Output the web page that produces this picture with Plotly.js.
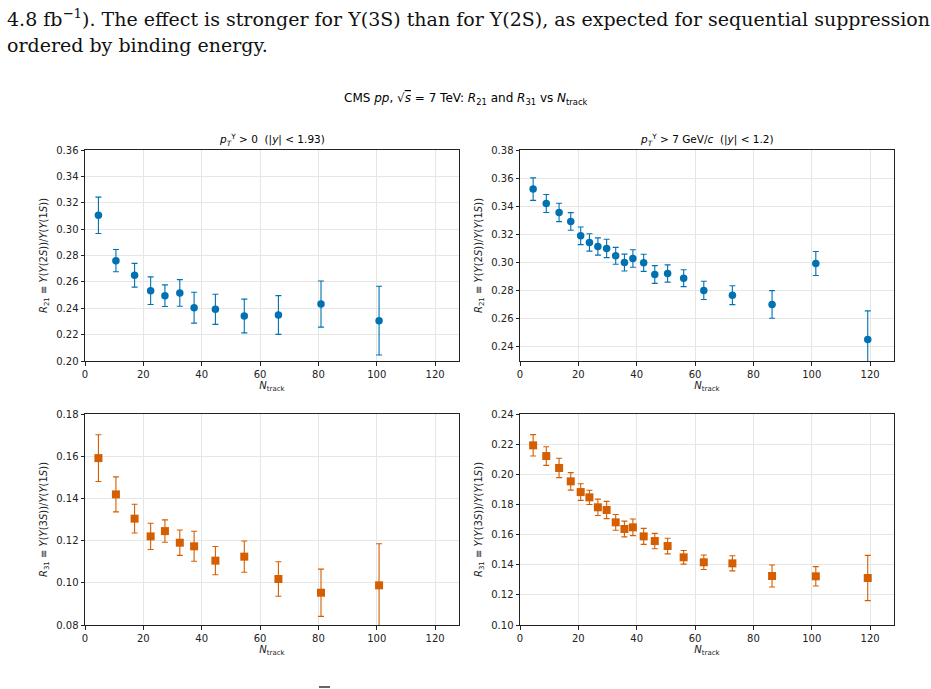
<!DOCTYPE html>
<html>
<head>
<meta charset="utf-8">
<script src="https://cdn.plot.ly/plotly-3.0.1.min.js"></script>
<style>html,body{margin:0;padding:0;background:#fff;}#chart{width:931px;height:689px;}</style>
</head>
<body>
<div id="chart"></div>
<script>
// ---- Data ----
// pT > 0 (|y|<1.93) bins
const ntrackA = [4.6, 10.6, 17.0, 22.5, 27.4, 32.5, 37.4, 44.7, 54.6, 66.3, 80.9, 100.8];
const r21A    = [0.3105, 0.2761, 0.2650, 0.2533, 0.2495, 0.2516, 0.2404, 0.2392, 0.2341, 0.2349, 0.2432, 0.2306];
const r21Aerr = [0.0138, 0.0084, 0.0090, 0.0105, 0.0082, 0.0101, 0.0117, 0.0114, 0.0128, 0.0147, 0.0175, 0.0261];
const r31A    = [0.1591, 0.1419, 0.1304, 0.1220, 0.1245, 0.1190, 0.1173, 0.1105, 0.1124, 0.1018, 0.0953, 0.0988];
const r31Aerr = [0.0111, 0.0083, 0.0068, 0.0062, 0.0053, 0.0060, 0.0071, 0.0067, 0.0074, 0.0082, 0.0112, 0.0197];

// pT > 7 GeV/c (|y|<1.2) bins
const ntrackB = [4.5, 9.0, 13.4, 17.4, 20.8, 23.8, 26.7, 29.7, 32.8, 35.8, 38.7, 42.4, 46.2, 50.6, 56.1, 63.0, 72.8, 86.4, 101.4, 119.2];
const r21B    = [0.3522, 0.3420, 0.3356, 0.3292, 0.3190, 0.3143, 0.3114, 0.3100, 0.3048, 0.3000, 0.3029, 0.2998, 0.2915, 0.2922, 0.2889, 0.2802, 0.2768, 0.2702, 0.2993, 0.2452];
const r21Berr = [0.0080, 0.0064, 0.0065, 0.0063, 0.0063, 0.0062, 0.0061, 0.0065, 0.0060, 0.0060, 0.0062, 0.0061, 0.0063, 0.0061, 0.0060, 0.0065, 0.0067, 0.0098, 0.0085, 0.0204];
const r31B    = [0.2192, 0.2121, 0.2042, 0.1953, 0.1882, 0.1847, 0.1781, 0.1763, 0.1681, 0.1637, 0.1648, 0.1588, 0.1557, 0.1524, 0.1449, 0.1416, 0.1409, 0.1325, 0.1323, 0.1312];
const r31Berr = [0.0071, 0.0062, 0.0064, 0.0058, 0.0055, 0.0047, 0.0054, 0.0057, 0.0052, 0.0052, 0.0055, 0.0053, 0.0051, 0.0052, 0.0045, 0.0048, 0.0050, 0.0073, 0.0064, 0.0150];

const xTickVals = [0, 20, 40, 60, 80, 100, 120];

// ---- Styling ----
const BLUE = '#0072B2';
const ORANGE = '#D55E00';
const FONT = 'DejaVu Sans, sans-serif';
const SERIF = 'DejaVu Serif, serif';

function trace(x, y, err, color, symbol, xa, ya) {
  return {
    type: 'scatter', mode: 'markers', x: x, y: y,
    xaxis: xa, yaxis: ya, showlegend: false, hoverinfo: 'skip',
    marker: {color: color, symbol: symbol, size: symbol === 'square' ? 8 : 7.5, line: {width: 0}},
    error_y: {type: 'data', array: err, visible: true, color: color, thickness: 1.1, width: 3}
  };
}

const data = [
  trace(ntrackA, r21A, r21Aerr, BLUE, 'circle', 'x', 'y'),
  trace(ntrackB, r21B, r21Berr, BLUE, 'circle', 'x2', 'y2'),
  trace(ntrackA, r31A, r31Aerr, ORANGE, 'square', 'x3', 'y3'),
  trace(ntrackB, r31B, r31Berr, ORANGE, 'square', 'x4', 'y4')
];

function xaxis(dom, anchor) {
  return {
    domain: dom, anchor: anchor, range: [0, 128.2], tickvals: xTickVals,
    showline: true, mirror: true, linecolor: '#222', linewidth: 1,
    ticks: 'outside', ticklen: 3.5, tickcolor: '#222',
    showgrid: true, gridcolor: '#e6e6e6', gridwidth: 1, zeroline: false,
    tickfont: {family: FONT, size: 10, color: '#222'},
    title: {text: '<i>N</i><sub>track</sub>', font: {family: FONT, size: 10, color: '#222'}, standoff: 2}
  };
}
function yaxis(dom, anchor, range, label) {
  return {
    domain: dom, anchor: anchor, range: range, dtick: 0.02, tick0: 0, tickformat: '.2f',
    showline: true, mirror: true, linecolor: '#222', linewidth: 1,
    ticks: 'outside', ticklen: 3.5, tickcolor: '#222',
    showgrid: true, gridcolor: '#e6e6e6', gridwidth: 1, zeroline: false,
    tickfont: {family: FONT, size: 10, color: '#222'},
    title: {text: label, font: {family: FONT, size: 10, color: '#222'}, standoff: 6}
  };
}

const lab21 = '<i>R</i><sub>21</sub> ≡ <i>Y</i>(<i>Υ</i>(2<i>S</i>))/<i>Y</i>(<i>Υ</i>(1<i>S</i>))';
const lab31 = '<i>R</i><sub>31</sub> ≡ <i>Y</i>(<i>Υ</i>(3<i>S</i>))/<i>Y</i>(<i>Υ</i>(1<i>S</i>))';

const xL = [85/931, 459/931], xR = [520/931, 894/931];
const yT = [1 - 361/689, 1 - 150/689], yB = [1 - 625/689, 1 - 414/689];

const layout = {
  width: 931, height: 689,
  margin: {l: 0, r: 0, t: 0, b: 0},
  paper_bgcolor: '#fff', plot_bgcolor: '#fff',
  font: {family: FONT, color: '#222'},
  xaxis: xaxis(xL, 'y'),
  yaxis: yaxis(yT, 'x', [0.20, 0.36], lab21),
  xaxis2: xaxis(xR, 'y2'),
  yaxis2: yaxis(yT, 'x2', [0.23, 0.38], lab21),
  xaxis3: xaxis(xL, 'y3'),
  yaxis3: yaxis(yB, 'x3', [0.08, 0.18], lab31),
  xaxis4: xaxis(xR, 'y4'),
  yaxis4: yaxis(yB, 'x4', [0.10, 0.24], lab31),
  shapes: [
    {type: 'line', xref: 'paper', yref: 'paper', x0: 319/931, x1: 330/931, y0: 1 - 687/689, y1: 1 - 687/689,
     line: {color: '#333', width: 1.5}}
  ],
  annotations: [
    {xref: 'paper', yref: 'paper', x: 5/931, y: 1 - 18/689, xanchor: 'left', yanchor: 'middle', showarrow: false,
     text: '4.8 fb<sup>−1</sup>). The effect is stronger for Υ(3S) than for Υ(2S), as expected for sequential suppression',
     font: {family: SERIF, size: 19, color: '#111'}},
    {xref: 'paper', yref: 'paper', x: 5/931, y: 1 - 45/689, xanchor: 'left', yanchor: 'middle', showarrow: false,
     text: 'ordered by binding energy.',
     font: {family: SERIF, size: 19, color: '#111'}},
    {xref: 'paper', yref: 'paper', x: 466/931, y: 1 - 99/689, xanchor: 'center', yanchor: 'middle', showarrow: false,
     text: 'CMS <i>pp</i>, √<span style="text-decoration:overline"><i>s</i></span> = 7 TeV: <i>R</i><sub>21</sub> and <i>R</i><sub>31</sub> vs <i>N</i><sub>track</sub>',
     font: {family: FONT, size: 12, color: '#000'}},
    {xref: 'paper', yref: 'paper', x: (85+459)/2/931, y: 1 - 140/689, xanchor: 'center', yanchor: 'middle', showarrow: false,
     text: '<i>p</i><sub><i>T</i></sub><sup>Υ</sup> > 0  (|<i>y</i>| < 1.93)',
     font: {family: FONT, size: 10.5, color: '#000'}},
    {xref: 'paper', yref: 'paper', x: (520+894)/2/931, y: 1 - 140/689, xanchor: 'center', yanchor: 'middle', showarrow: false,
     text: '<i>p</i><sub><i>T</i></sub><sup>Υ</sup> > 7 GeV/<i>c</i>  (|<i>y</i>| < 1.2)',
     font: {family: FONT, size: 10.5, color: '#000'}}
  ]
};

Plotly.newPlot('chart', data, layout, {staticPlot: true, displayModeBar: false});
</script>
</body>
</html>
